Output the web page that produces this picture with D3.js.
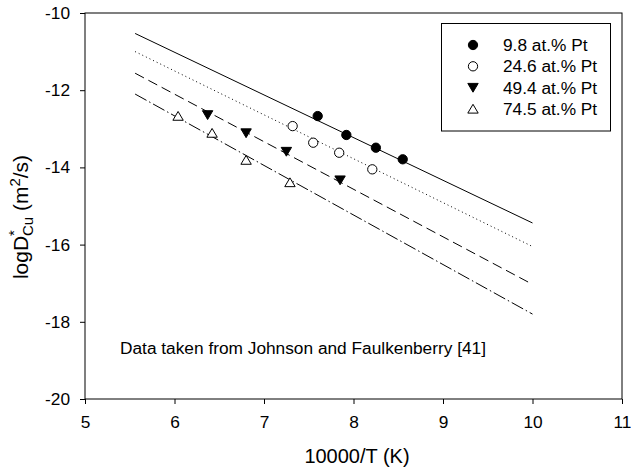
<!DOCTYPE html>
<html>
<head>
<meta charset="utf-8">
<script src="https://cdn.jsdelivr.net/npm/d3@7"></script>
<style>
  body { margin: 0; background: #fff; }
  svg { display: block; font-family: "Liberation Sans", Arial, sans-serif; }
  .axis text { font-size: 17.3px; fill: #000; }
  .axis line { stroke: #000; }
</style>
</head>
<body>
<script>
var width = 631,
    height = 468;

// series (x = 10000/T, y = logD*Cu)
var seriesNames = ["9.8 at.% Pt", "24.6 at.% Pt", "49.4 at.% Pt", "74.5 at.% Pt"];
var xPt98 = [7.60, 7.92, 8.25, 8.55];
var yPt98 = [-12.67, -13.16, -13.49, -13.79];
var xPt246 = [7.32, 7.55, 7.84, 8.21];
var yPt246 = [-12.93, -13.36, -13.62, -14.05];
var xPt494 = [6.37, 6.80, 7.25, 7.85];
var yPt494 = [-12.64, -13.11, -13.59, -14.33];
var xPt745 = [6.04, 6.42, 6.80, 7.29];
var yPt745 = [-12.67, -13.11, -13.81, -14.39];

// fitted lines: start and end of each line
var xFit = [5.56, 10.0];
var yFit98 = [-10.53, -15.44];
var yFit246 = [-11.00, -16.05];
var yFit494 = [-11.56, -17.03];
var yFit745 = [-12.10, -17.80];

var xTicks = [5, 6, 7, 8, 9, 10, 11];
var yTicks = [-20, -18, -16, -14, -12, -10];
var note = "Data taken from Johnson and Faulkenberry [41]";

var x = d3.scaleLinear().domain([5, 11]).range([85, 622]);
var y = d3.scaleLinear().domain([-20, -10]).range([399, 13]);

var svg = d3.select("body").append("svg")
    .attr("width", width)
    .attr("height", height);

var series = [
  { name: seriesNames[0], xs: xPt98, ys: yPt98, fit: yFit98, sym: "circle", fill: "#000", dash: null },
  { name: seriesNames[1], xs: xPt246, ys: yPt246, fit: yFit246, sym: "circle", fill: "#fff", dash: "1,3" },
  { name: seriesNames[2], xs: xPt494, ys: yPt494, fit: yFit494, sym: "down", fill: "#000", dash: "10,5" },
  { name: seriesNames[3], xs: xPt745, ys: yPt745, fit: yFit745, sym: "up", fill: "#fff", dash: "13,3,1.5,3" }
];

var line = d3.line()
    .x(function(d) { return x(d[0]); })
    .y(function(d) { return y(d[1]); });

// fit lines
svg.selectAll(".fit")
  .data(series)
  .enter()
  .append("path")
    .attr("class", "fit")
    .attr("d", function(s) { return line(xFit.map(function(v, i) { return [v, s.fit[i]]; })); })
    .attr("fill", "none")
    .attr("stroke", "#000")
    .attr("stroke-width", 1)
    .attr("stroke-dasharray", function(s) { return s.dash; });

function symbolPath(sym) {
  if (sym === "circle") return d3.symbol().type(d3.symbolCircle).size(68)();
  // triangles, 10 px wide
  if (sym === "down") return "M-5.2,-4.2L5.2,-4.2L0,4.6Z";
  return "M-5.2,4.2L5.2,4.2L0,-4.6Z";
}

function drawSymbol(g, s) {
  g.append("path")
    .attr("d", symbolPath(s.sym))
    .attr("fill", s.fill)
    .attr("stroke", "#000")
    .attr("stroke-width", 1);
}

// data points
series.forEach(function(s) {
  var pts = s.xs.map(function(v, i) { return [v, s.ys[i]]; });
  svg.selectAll(null)
    .data(pts)
    .enter()
    .append("g")
      .attr("transform", function(d) { return "translate(" + x(d[0]) + "," + y(d[1]) + ")"; })
      .each(function() { drawSymbol(d3.select(this), s); });
});

// axes
var fmt = function(d) { return String(d); };

svg.append("g")
    .attr("class", "axis")
    .attr("transform", "translate(0,399)")
    .call(d3.axisBottom(x).tickValues(xTicks).tickFormat(fmt).tickSize(5).tickSizeOuter(0).tickPadding(11.5))
    .call(function(g) { g.select(".domain").remove(); });

svg.append("g")
    .attr("class", "axis")
    .attr("transform", "translate(85,0)")
    .call(d3.axisLeft(y).tickValues(yTicks).tickFormat(fmt).tickSize(5).tickSizeOuter(0).tickPadding(10))
    .call(function(g) { g.select(".domain").remove(); });

// frame
svg.append("rect")
    .attr("x", 85)
    .attr("y", 13)
    .attr("width", 622 - 85)
    .attr("height", 399 - 13)
    .attr("fill", "none")
    .attr("stroke", "#000")
    .attr("stroke-width", 1);

// axis titles
svg.append("text")
    .attr("x", 357)
    .attr("y", 463)
    .attr("text-anchor", "middle")
    .attr("font-size", 20)
    .text("10000/T (K)");

var yt = svg.append("text")
    .attr("transform", "translate(28,217) rotate(-90)")
    .attr("text-anchor", "middle")
    .attr("font-size", 21);
yt.append("tspan").text("logD");
yt.append("tspan").attr("font-size", 15).attr("dy", -9).text("*");
yt.append("tspan").attr("font-size", 15).attr("dx", -6).attr("dy", 14).text("Cu");
yt.append("tspan").attr("dy", -5).text(" (m");
yt.append("tspan").attr("font-size", 15).attr("dy", -8).text("2");
yt.append("tspan").attr("dy", 8).text("/s)");

// note
svg.append("text")
    .attr("x", 120)
    .attr("y", 354)
    .attr("font-size", 17.3)
    .text(note);

// legend
var legend = svg.append("g");
legend.append("rect")
    .attr("x", 441.5)
    .attr("y", 23.5)
    .attr("width", 169)
    .attr("height", 107.5)
    .attr("fill", "#fff")
    .attr("stroke", "#000")
    .attr("stroke-width", 1);

var rows = legend.selectAll(".row")
  .data(series)
  .enter()
  .append("g")
    .attr("class", "row")
    .attr("transform", function(s, i) { return "translate(473," + (45 + i * 21.3) + ")"; });

rows.each(function(s) { drawSymbol(d3.select(this), s); });
rows.append("text")
    .attr("x", 30)
    .attr("y", 6)
    .attr("font-size", 17.3)
    .text(function(s) { return s.name; });
</script>
</body>
</html>
